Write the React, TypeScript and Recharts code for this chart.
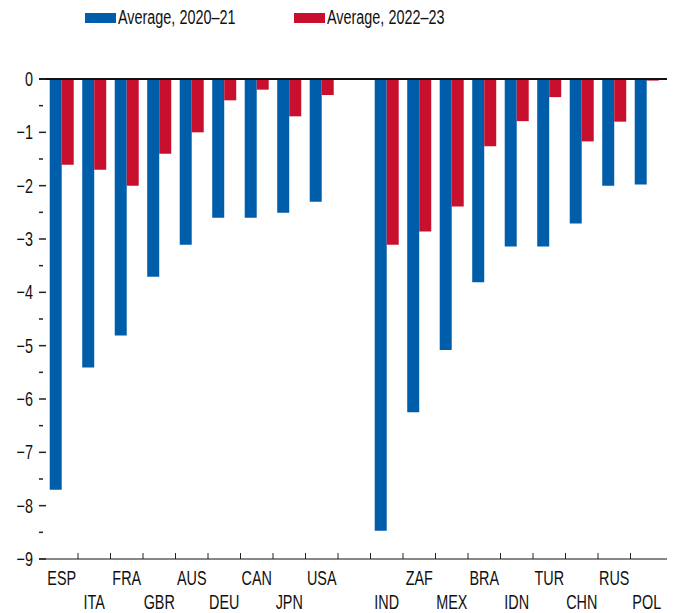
import { BarChart, Bar, XAxis, YAxis, ReferenceLine } from 'recharts';

// country groups (left: advanced economies, right: emerging markets)
const advanced = ['ESP', 'ITA', 'FRA', 'GBR', 'AUS', 'DEU', 'CAN', 'JPN', 'USA'];
const emerging = ['IND', 'ZAF', 'MEX', 'BRA', 'IDN', 'TUR', 'CHN', 'RUS', 'POL'];

const avg2021Adv = [-7.7, -5.41, -4.81, -3.71, -3.11, -2.6, -2.6, -2.51, -2.3];
const avg2223Adv = [-1.61, -1.7, -2.0, -1.4, -1.0, -0.4, -0.2, -0.7, -0.3];
const avg2021Em = [-8.47, -6.25, -5.08, -3.81, -3.14, -3.14, -2.71, -2.0, -1.98];
const avg2223Em = [-3.11, -2.86, -2.39, -1.26, -0.79, -0.34, -1.17, -0.8, -0.03];

const yTicks = [0, -0.5, -1, -1.5, -2, -2.5, -3, -3.5, -4, -4.5, -5, -5.5, -6, -6.5, -7, -7.5, -8, -8.5, -9];

const BLUE = '#005DAA';
const RED = '#C8102E';
const FONT = '"Liberation Sans", Arial, sans-serif';
const FS = 20;
const SQUEEZE = 0.72; // condensed look

const data = [
  ...advanced.map((c, i) => ({ name: c, row: i % 2, a: avg2021Adv[i], b: avg2223Adv[i] })),
  { name: '', row: 0 },
  ...emerging.map((c, i) => ({ name: c, row: (i + 1) % 2, a: avg2021Em[i], b: avg2223Em[i] })),
];

const W = 675;
const H = 613;
const PAD_L = 6.5;
const PAD_R = 4;
const PLOT_W = W - 39 - 8;
const STEP = (PLOT_W - PAD_L - PAD_R) / data.length;

const fmt = (v: number) => (v === 0 ? '0' : '\u2212' + Math.abs(v));

const Label = ({ x, y, anchor, children }: any) => (
  <text
    transform={`translate(${x} ${y}) scale(${SQUEEZE} 1)`}
    textAnchor={anchor}
    fontSize={FS}
    fontFamily={FONT}
    fill="#111"
  >
    {children}
  </text>
);

const LeftTick = ({ x, y, payload }: any) => {
  const v = payload.value;
  const major = Number.isInteger(v);
  return (
    <g>
      <line x1={x} x2={x + (major ? 7 : 4)} y1={y} y2={y} stroke="#222" strokeWidth={1.5} />
      {major && (
        <Label x={x - 6} y={y + 7} anchor="end">
          {fmt(v)}
        </Label>
      )}
    </g>
  );
};

const RightTick = ({ x, y, payload }: any) => {
  const major = Number.isInteger(payload.value);
  return <line x1={x - (major ? 8 : 5)} x2={x} y1={y} y2={y} stroke="#222" strokeWidth={1.5} />;
};

const BottomTick = ({ x, y, payload, index }: any) => {
  const row = data[index] ? data[index].row : 0;
  return (
    <g>
      {index > 0 && <line x1={x - STEP / 2} x2={x - STEP / 2} y1={y} y2={y - 6} stroke="#222" strokeWidth={1} />}
      <Label x={x} y={y + (row ? 50 : 26)} anchor="middle">
        {payload.value}
      </Label>
    </g>
  );
};

function LegendBox() {
  const item = (color: string, label: string, left: number) => (
    <div style={{ position: 'absolute', left, top: 6, display: 'flex', alignItems: 'center', whiteSpace: 'nowrap' }}>
      <div style={{ width: 31, height: 10, background: color, marginRight: 2 }} />
      <span
        style={{
          display: 'inline-block',
          fontSize: FS,
          fontFamily: FONT,
          color: '#111',
          transform: `scaleX(${SQUEEZE})`,
          transformOrigin: 'left center',
        }}
      >
        {label}
      </span>
    </div>
  );
  return (
    <>
      {item(BLUE, 'Average, 2020\u201321', 85)}
      {item(RED, 'Average, 2022\u201323', 294)}
    </>
  );
}

export default function App() {
  return (
    <div style={{ position: 'absolute', left: 0, top: 0, width: W, height: H, background: '#fff' }}>
      <LegendBox />
      <BarChart
        width={W}
        height={H}
        data={data}
        margin={{ top: 79, right: 0, left: 0, bottom: 0 }}
        barGap={0}
        barCategoryGap="13%"
      >
        <XAxis
          dataKey="name"
          interval={0}
          height={54}
          tickSize={0}
          tickMargin={0}
          tick={<BottomTick />}
          axisLine={{ stroke: '#111', strokeWidth: 1 }}
          tickLine={false}
          padding={{ left: PAD_L, right: PAD_R }}
        />
        <YAxis
          width={39}
          domain={[-9, 0]}
          ticks={yTicks}
          interval={0}
          tickSize={0}
          tickMargin={0}
          tick={<LeftTick />}
          axisLine={false}
          tickLine={false}
        />
        <YAxis
          yAxisId="right"
          orientation="right"
          width={8}
          domain={[-9, 0]}
          ticks={yTicks}
          interval={0}
          tickSize={0}
          tickMargin={0}
          tick={<RightTick />}
          axisLine={false}
          tickLine={false}
        />
        <Bar dataKey="a" name="Average, 2020–21" fill={BLUE} isAnimationActive={false} />
        <Bar dataKey="b" name="Average, 2022–23" fill={RED} isAnimationActive={false} />
        <ReferenceLine y={0} stroke="#111" strokeWidth={2} />
      </BarChart>
    </div>
  );
}
